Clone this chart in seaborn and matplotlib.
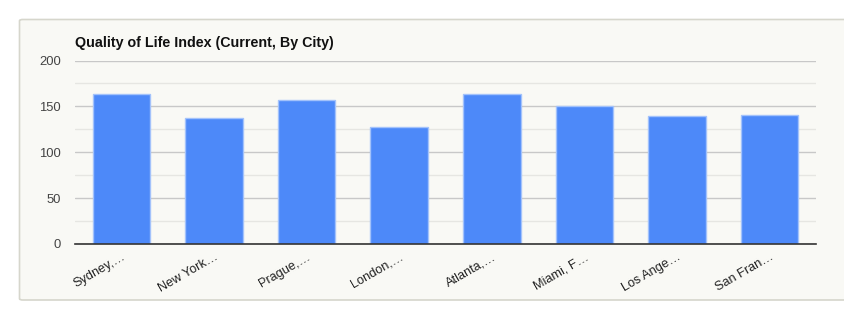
import matplotlib
matplotlib.use("Agg")
import matplotlib.pyplot as plt
from matplotlib.patches import FancyBboxPatch
import seaborn as sns
import pandas as pd

cities = ["Sydney,…", "New York…", "Prague,…", "London,…", "Atlanta,…", "Miami, F…", "Los Ange…", "San Fran…"]
values = [163.2, 137.0, 157.0, 127.2, 163.2, 150.2, 139.3, 140.3]
yticks = [0, 50, 100, 150, 200]

df = pd.DataFrame({"city": cities, "value": values})

sns.set_theme(style="white")
plt.rcParams['font.family'] = ['Arial', 'Liberation Sans', 'DejaVu Sans']

W, H = 845, 317
fig = plt.figure(figsize=(W / 100, H / 100), dpi=100)
fig.patch.set_facecolor("white")

card = FancyBboxPatch((19.5 / W, (H - 300) / H), (W - 19.5 + 10) / W, (300 - 19.5) / H,
                      boxstyle="round,pad=0,rounding_size=0.004", transform=fig.transFigure,
                      facecolor="#f9f9f5", edgecolor="#d6d6cc", linewidth=1.2, zorder=-10)
fig.patches.append(card)

left, right, top, bottom = 75, 816, 60.5, 244
ax = fig.add_axes([left / W, (H - bottom) / H, (right - left) / W, (bottom - top) / H])
ax.set_zorder(2)
ax.set_facecolor("none")

sns.barplot(data=df, x="city", y="value", ax=ax, color="#4d89f9", width=0.62,
            edgecolor="#a3c2fb", linewidth=1.0, saturation=1, zorder=3)

ax.set_ylim(0, 200)
ax.set_xlim(-0.5, len(cities) - 0.5)
ax.set_yticks(yticks)
ax.set_yticks([25, 75, 125, 175], minor=True)
ax.grid(axis="y", which="major", color="#c8c8c8", linewidth=1.0, zorder=0)
ax.grid(axis="y", which="minor", color="#e6e6e2", linewidth=1.0, zorder=0)
ax.set_axisbelow(True)
for s in ["top", "right", "left"]:
    ax.spines[s].set_visible(False)
ax.spines["bottom"].set_color("#333333")
ax.spines["bottom"].set_linewidth(1.2)
ax.spines["bottom"].set_zorder(5)

ax.tick_params(axis="y", which="both", length=0, pad=10, labelsize=9.4, labelcolor="#444444")
ax.tick_params(axis="x", length=0, pad=5, labelsize=9.2, labelcolor="#222222")
plt.setp(ax.get_xticklabels(), rotation=30, ha="right", rotation_mode="anchor")
ax.set_xlabel("")
ax.set_ylabel("")

fig.text(left / W, 1 - 43 / H, "Quality of Life Index (Current, By City)", fontsize=10.3,
         fontweight="bold", color="#111111", ha="left", va="center")

fig.savefig("out.png", dpi=100)
